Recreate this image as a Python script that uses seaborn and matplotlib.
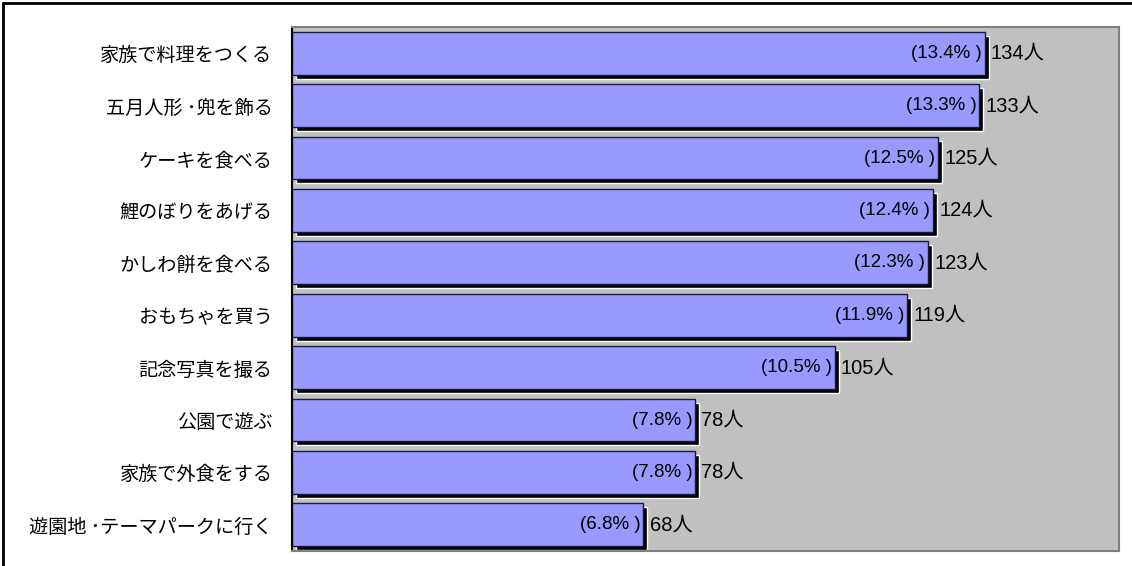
import numpy as np
import pandas as pd
import matplotlib
matplotlib.use("Agg")
import matplotlib.pyplot as plt
import matplotlib.transforms as mtransforms
import seaborn as sns

# =========================
# DATA
# =========================
activities = [
    "家族で料理をつくる",
    "五月人形 ･兜を飾る",
    "ケーキを食べる",
    "鯉のぼりをあげる",
    "かしわ餅を食べる",
    "おもちゃを買う",
    "記念写真を撮る",
    "公園で遊ぶ",
    "家族で外食をする",
    "遊園地 ･テーマパークに行く",
]
counts = [134, 133, 125, 124, 123, 119, 105, 78, 78, 68]
percents = [13.4, 13.3, 12.5, 12.4, 12.3, 11.9, 10.5, 7.8, 7.8, 6.8]

df = pd.DataFrame({"activity": activities, "count": counts, "pct": percents})

# =========================
# STYLE
# =========================
sns.set_style("white")
plt.rcParams["font.family"] = ["Noto Sans CJK JP", "DejaVu Sans"]
plt.rcParams["text.color"] = "black"
plt.rcParams["ytick.labelcolor"] = "black"
num_font = ["Liberation Sans", "Noto Sans CJK JP"]

fig = plt.figure(figsize=(11.32, 5.66), dpi=100)
ax = fig.add_axes([292 / 1132, 1 - 551 / 566, (1119 - 292) / 1132, (551 - 27) / 566])
ax.set_facecolor("#C0C0C0")

bar_w = 0.82

# shadow bars (offset down/right)
shadow = mtransforms.ScaledTranslation(4 / 100, -4 / 100, fig.dpi_scale_trans)
ax.barh(np.arange(len(activities)), df["count"], height=bar_w,
        color="black", transform=ax.transData + shadow, zorder=1)

sns.barplot(data=df, x="count", y="activity", order=activities, orient="h",
            width=bar_w, color="#9999FF", saturation=1,
            edgecolor="#1a1a40", linewidth=1, ax=ax, zorder=2)

ax.set_xlim(0, 160)
ax.set_ylim(len(activities) - 0.5, -0.5)
ax.set_xticks([])
ax.set_xlabel("")
ax.set_ylabel("")
ax.tick_params(axis="y", length=0, pad=14, labelsize=13.8, labelcolor="black")

# small tick marks at category boundaries
ax.set_yticks(np.arange(-0.5, len(activities)), minor=True)
ax.tick_params(axis="y", which="minor", length=3, width=1, color="#808080", direction="in")

for i, (c, p) in enumerate(zip(counts, percents)):
    ax.annotate(f"({p}% )", xy=(c, i), xytext=(-2, 0), textcoords="offset points",
                ha="right", va="center", fontsize=13.5, family=num_font,
                color="black", zorder=3)
    ax.annotate(f"{c}人", xy=(c, i), xytext=(4.5, 0), textcoords="offset points",
                ha="left", va="center", fontsize=14.5, family=num_font,
                color="black", zorder=3)

for side in ["top", "right", "bottom"]:
    ax.spines[side].set_color("#808080")
    ax.spines[side].set_linewidth(1.5)
ax.spines["left"].set_color("black")
ax.spines["left"].set_linewidth(1.5)

# outer frame
fig.add_artist(plt.Line2D([3 / 1132, 3 / 1132], [0, 1 - 3 / 566], color="black", lw=2))
fig.add_artist(plt.Line2D([3 / 1132, 1], [1 - 3 / 566, 1 - 3 / 566], color="black", lw=2))

fig.savefig("out.png", dpi=100)
plt.close(fig)
